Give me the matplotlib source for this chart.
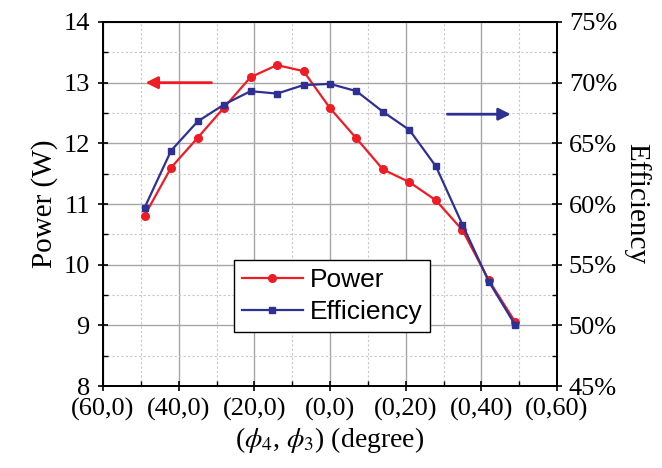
import numpy as np
import matplotlib.pyplot as plt
from matplotlib.ticker import MultipleLocator, FuncFormatter

plt.rcParams['font.family'] = ['Liberation Serif', 'DejaVu Serif']
plt.rcParams['mathtext.fontset'] = 'stix'

# angle offset: negative -> phi4, positive -> phi3
angle = [-49, -42, -35, -28, -21, -14, -7, 0, 7, 14, 21, 28, 35, 42, 49]
power = [10.81, 11.60, 12.09, 12.59, 13.09, 13.29, 13.19, 12.58,
         12.08, 11.57, 11.36, 11.06, 10.57, 9.74, 9.05]
efficiency = [59.7, 64.4, 66.8, 68.2, 69.3, 69.1, 69.8, 69.9,
              69.3, 67.6, 66.1, 63.1, 58.3, 53.6, 50.0]
xtick_pos = [-60, -40, -20, 0, 20, 40, 60]
xtick_labels = ['(60,0)', '(40,0)', '(20,0)', '(0,0)', '(0,20)', '(0,40)', '(0,60)']

red = '#EE1C25'
blue = '#2E3192'

fig = plt.figure(figsize=(6.62, 4.68), dpi=100)
ax1 = fig.add_axes([0.1556, 0.1752, 0.6858, 0.7778])
ax2 = ax1.twinx()

ax1.plot(angle, power, color=red, lw=1.6, marker='o', ms=5.5, label='Power')
ax2.plot(angle, efficiency, color=blue, lw=1.6, marker='s', ms=5, label='Efficiency')

ax1.set_xlim(-60, 60)
ax1.set_ylim(8, 14)
ax2.set_ylim(45, 75)

ax1.set_xticks(xtick_pos)
ax1.set_xticklabels(xtick_labels)
ax1.xaxis.set_minor_locator(MultipleLocator(10))
ax1.yaxis.set_major_locator(MultipleLocator(1))
ax1.yaxis.set_minor_locator(MultipleLocator(0.5))
ax2.yaxis.set_major_locator(MultipleLocator(5))
ax2.yaxis.set_minor_locator(MultipleLocator(2.5))
ax2.yaxis.set_major_formatter(FuncFormatter(lambda v, p: '%d%%' % v))

ax1.grid(True, which='major', color='#A6A6A6', lw=1.0, ls='-')
ax1.grid(True, which='minor', color='#C8C8C8', lw=0.8, ls=(0, (2, 2)))
ax1.set_axisbelow(True)

for ax in (ax1, ax2):
    ax.tick_params(which='major', direction='inout', length=7, width=1.2, labelsize=19)
    ax.tick_params(which='minor', direction='in', length=3.5, width=1.0)
    for s in ax.spines.values():
        s.set_linewidth(1.3)
ax1.tick_params(axis='x', which='major', pad=5)
ax1.tick_params(axis='y', which='major', pad=6)
ax2.tick_params(axis='y', which='major', pad=5)

ax1.set_ylabel('Power (W)', fontsize=21, labelpad=4)
ax2.set_ylabel('Efficiency', fontsize=21, rotation=270, labelpad=24)
ax1.set_xlabel('($\\phi_4$, $\\phi_3$) (degree)', fontsize=20, labelpad=3)

# arrows pointing to the axis each curve uses
ax1.annotate('', xy=(-49.5, 13.0), xytext=(-30.6, 13.0),
             arrowprops=dict(arrowstyle='-|>', color=red, lw=2, mutation_scale=18))
ax2.annotate('', xy=(48.5, 67.4), xytext=(30.3, 67.4),
             arrowprops=dict(arrowstyle='-|>', color=blue, lw=2, mutation_scale=18))

h1, l1 = ax1.get_legend_handles_labels()
h2, l2 = ax2.get_legend_handles_labels()
leg = ax2.legend(h1 + h2, l1 + l2, loc='upper left', bbox_to_anchor=(0.289, 0.346),
                 borderaxespad=0, fancybox=False, edgecolor='black', framealpha=1,
                 prop={'family': 'Liberation Sans', 'size': 19}, handlelength=2.3,
                 handletextpad=0.25, borderpad=0.3, labelspacing=0.3)
leg.get_frame().set_linewidth(1.0)

fig.savefig('out.png', dpi=100)
